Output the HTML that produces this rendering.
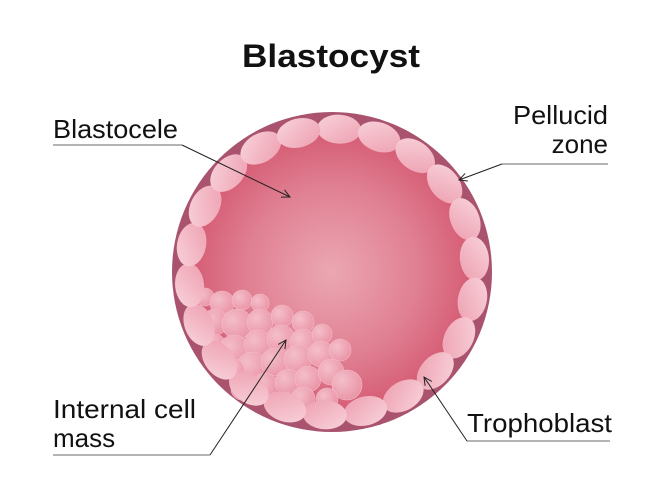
<!DOCTYPE html>
<html><head><meta charset="utf-8"><style>
html,body{margin:0;padding:0;background:#fff;}
svg{display:block;}
text{font-family:"Liberation Sans",sans-serif;fill:#111;}
</style></head><body>
<svg id="s" width="664" height="479" viewBox="0 0 664 479" xmlns="http://www.w3.org/2000/svg">
<defs>
<radialGradient id="cav" cx="0.5" cy="0.5" r="0.5">
<stop offset="0" stop-color="#eba7b3"/>
<stop offset="0.6" stop-color="#e07f92"/>
<stop offset="1" stop-color="#d45a72"/>
</radialGradient>
<linearGradient id="cell" x1="0" y1="0" x2="1" y2="1">
<stop offset="0" stop-color="#f8d3db"/>
<stop offset="1" stop-color="#ee9fb0"/>
</linearGradient>
<radialGradient id="icm" cx="0.35" cy="0.35" r="0.7">
<stop offset="0" stop-color="#f6c3ce"/>
<stop offset="1" stop-color="#eb97a9"/>
</radialGradient>
<marker id="ah" markerWidth="10" markerHeight="10" refX="9" refY="5" orient="auto" markerUnits="userSpaceOnUse">
<path d="M1,1 L9,5 L1,9" fill="none" stroke="#222" stroke-width="1"/>
</marker>
</defs>
<circle cx="332" cy="272" r="160" fill="#a9536e"/>
<circle cx="332" cy="272" r="144" fill="url(#cav)"/>
<g id="icmg"></g>
<g id="ring"></g>
<text x="331" y="67" font-size="32" font-weight="bold" text-anchor="middle" textLength="178" lengthAdjust="spacingAndGlyphs">Blastocyst</text>
<text x="53" y="138" font-size="26" textLength="125" lengthAdjust="spacingAndGlyphs">Blastocele</text>
<text x="608" y="124" font-size="26" text-anchor="end" textLength="95" lengthAdjust="spacingAndGlyphs">Pellucid</text>
<text x="608" y="153" font-size="26" text-anchor="end">zone</text>
<text x="53" y="418" font-size="26" textLength="143" lengthAdjust="spacingAndGlyphs">Internal cell</text>
<text x="53" y="447" font-size="26">mass</text>
<text x="467" y="432" font-size="26" textLength="145" lengthAdjust="spacingAndGlyphs">Trophoblast</text>
<g stroke="#888" stroke-width="1.3" fill="none">
<line x1="53" y1="145" x2="182" y2="145"/>
<line x1="502" y1="164" x2="608" y2="164"/>
<line x1="53" y1="455" x2="210" y2="455"/>
<line x1="467" y1="441" x2="610" y2="441"/>
</g>
<g stroke="#222" stroke-width="1" fill="none">
<line x1="182" y1="145" x2="290" y2="197" marker-end="url(#ah)"/>
<line x1="502" y1="164" x2="459" y2="180" marker-end="url(#ah)"/>
<line x1="210" y1="455" x2="286" y2="340" marker-end="url(#ah)"/>
<line x1="467" y1="441" x2="424" y2="377" marker-end="url(#ah)"/>
</g>
</svg>
<script>
var NS="http://www.w3.org/2000/svg";
var icm=document.getElementById("icmg");
var cs=[[205,297,9],[222,303,12],[242,300,10],[260,303,9],[215,322,13],[237,324,15],[260,322,13],[282,316,11],[303,322,11],[215,344,10],[234,350,15],[258,344,14],[281,339,14],[303,342,13],[322,334,10],[252,367,15],[275,362,14],[298,359,14],[321,354,13],[340,350,11],[242,389,11],[265,386,13],[288,382,13],[308,379,13],[331,372,13],[347,385,15],[303,399,12],[327,399,11],[285,402,10],[234,369,10]];
cs.forEach(function(c){var e=document.createElementNS(NS,"circle");e.setAttribute("cx",c[0]);e.setAttribute("cy",c[1]);e.setAttribute("r",c[2]);e.setAttribute("fill","url(#icm)");e.setAttribute("stroke","#f5bfcb");e.setAttribute("stroke-width","0.6");e.setAttribute("opacity","0.95");icm.appendChild(e);});
var ring=document.getElementById("ring");
var n=22;
for(var i=0;i<n;i++){var a=i/n*2*Math.PI-Math.PI/2+0.05;var x=332+143*Math.cos(a),y=272+143*Math.sin(a);
var e=document.createElementNS(NS,"ellipse");e.setAttribute("cx",0);e.setAttribute("cy",0);e.setAttribute("rx",22);e.setAttribute("ry",14.5);e.setAttribute("fill","url(#cell)");
e.setAttribute("transform","translate("+x.toFixed(1)+","+y.toFixed(1)+") rotate("+(a*180/Math.PI+90).toFixed(1)+")");ring.appendChild(e);}
</script>
</body></html>
